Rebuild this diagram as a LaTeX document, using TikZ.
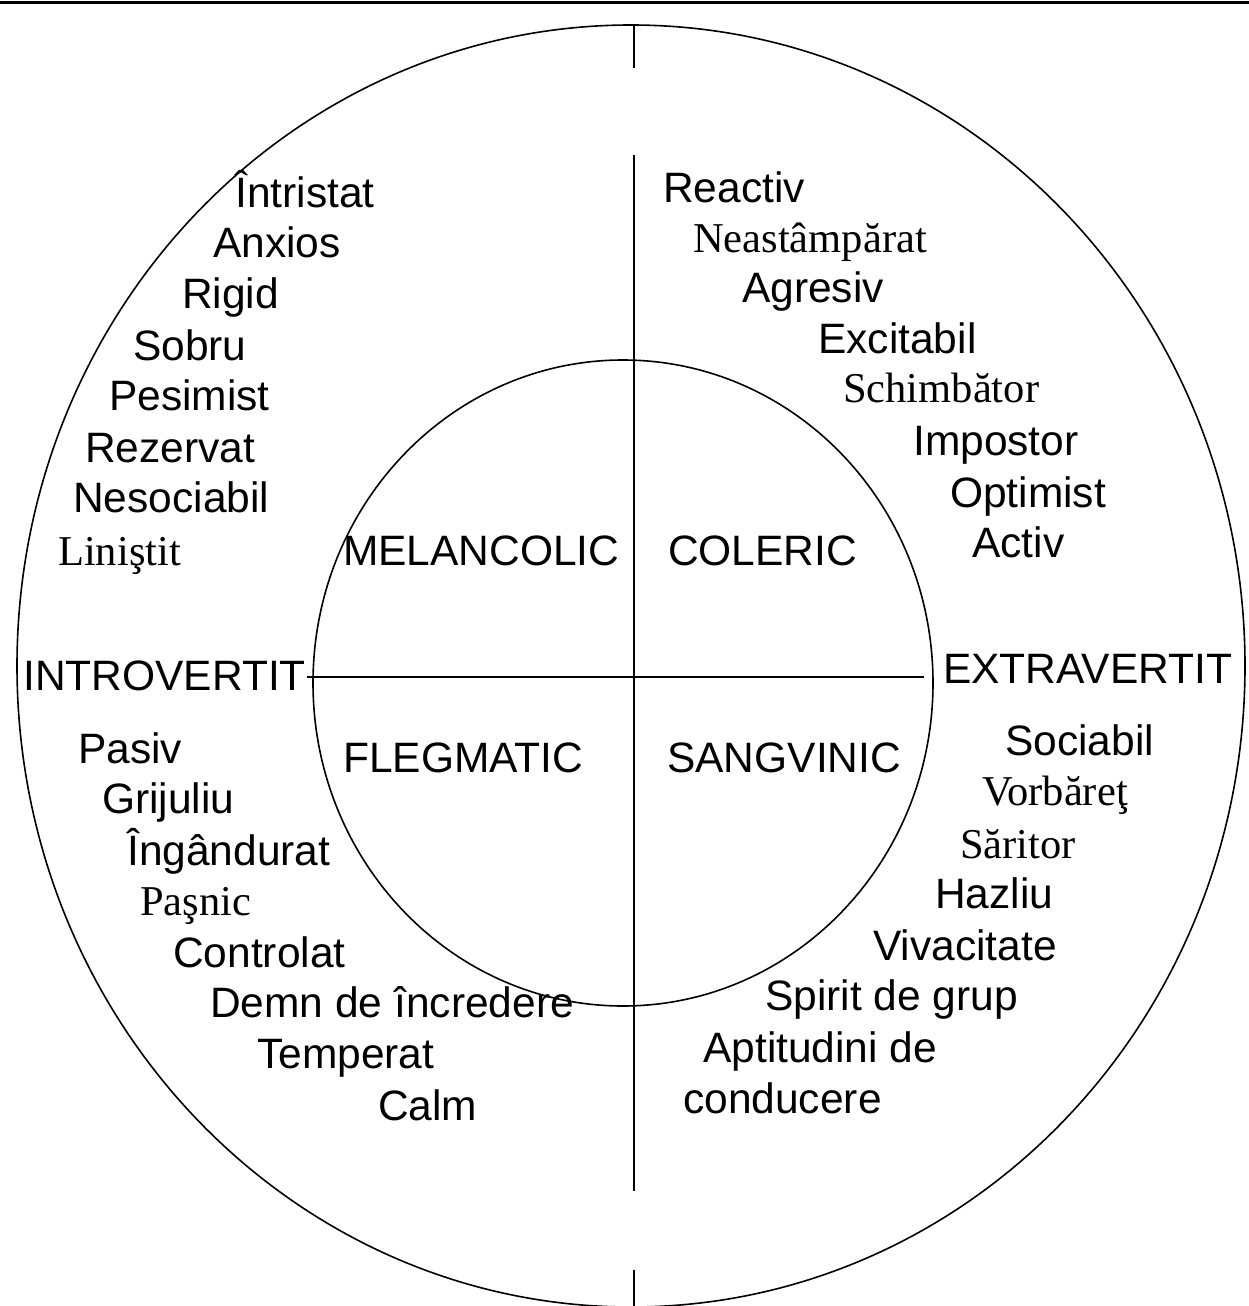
\documentclass[tikz,border=0pt]{standalone}
\usepackage{fontspec}
\setmainfont{Liberation Serif}
\newfontfamily\arialfont{Liberation Sans}
\tikzset{
  word/.style  ={anchor=base west, inner sep=0pt, font=\arialfont\fontsize{42.5}{49}\selectfont},
  tword/.style ={anchor=base west, inner sep=0pt, font=\fontsize{42.5}{49}\selectfont},
  ring/.style  ={draw, line width=1.6pt},
  axis/.style  ={draw, line width=1.2pt},
}

\begin{document}
\begin{tikzpicture}[x=1pt, y=-1pt]
  \useasboundingbox (0,0) rectangle (1249,1306);
  % rule on top
  \coordinate (ruleL) at (0,2.5);
  \coordinate (ruleR) at (1249,2.5);
  \draw[line width=3pt] (ruleL) -- (ruleR);
  % rings
  \coordinate (outer) at (631,666);
  \coordinate (inner) at (623,683);
  \draw[ring] (outer) ellipse [x radius=614, y radius=641];
  \draw[ring] (inner) ellipse [x radius=310, y radius=323];
  % axes
  \foreach \a/\b [count=\i] in {25/68, 155/1191, 1270/1306} {
    \coordinate (vt\i) at (634,\a);
    \coordinate (vb\i) at (634,\b);
    \draw[axis] (vt\i) -- (vb\i);
  }
  \coordinate (hL) at (307,677);
  \coordinate (hR) at (924,677);
  \draw[axis] (hL) -- (hR);
  % temperaments
  \node[word] (mel) at (343,565) {MELANCOLIC};
  \node[word] (col) at (668,565) {COLERIC};
  \node[word] (fle) at (343,772) {FLEGMATIC};
  \node[word] (san) at (667,772) {SANGVINIC};
  \node[word] (intro) at (23,690) {INTROVERTIT};
  \node[word] (extra) at (943,683) {EXTRAVERTIT};
  % traits, upper left
  \foreach \x/\y/\s/\w [count=\i] in {235/207/word/Întristat, 213/257/word/Anxios,
      182/308/word/Rigid, 133/360/word/Sobru, 109/410/word/Pesimist,
      85/462/word/Rezervat, 73/512/word/Nesociabil, 58/565/tword/Liniştit}
    \node[\s] (ul\i) at (\x,\y) {\w};
  % traits, upper right
  \foreach \x/\y/\s/\w [count=\i] in {663/202/word/Reactiv, 693/252/tword/Neastâmpărat,
      742/302/word/Agresiv, 818/353/word/Excitabil, 843/402/tword/Schimbător,
      913/455/word/Impostor, 950/507/word/Optimist, 972/557/word/Activ}
    \node[\s] (ur\i) at (\x,\y) {\w};
  % traits, lower left
  \foreach \x/\y/\s/\w [count=\i] in {78/763/word/Pasiv, 102/813/word/Grijuliu,
      127/865/word/Îngândurat, 140/915/tword/Paşnic, 173/967/word/Controlat,
      210/1017/word/Demn de încredere, 257/1068/word/Temperat, 378/1120/word/Calm}
    \node[\s] (ll\i) at (\x,\y) {\w};
  % traits, lower right
  \foreach \x/\y/\s/\w [count=\i] in {1005/755/word/Sociabil, 982/805/tword/Vorbăreţ,
      960/858/tword/Săritor, 935/908/word/Hazliu, 873/960/word/Vivacitate,
      765/1010/word/Spirit de grup, 703/1062/word/Aptitudini de, 683/1113/word/conducere}
    \node[\s] (lr\i) at (\x,\y) {\w};
\end{tikzpicture}
\end{document}
